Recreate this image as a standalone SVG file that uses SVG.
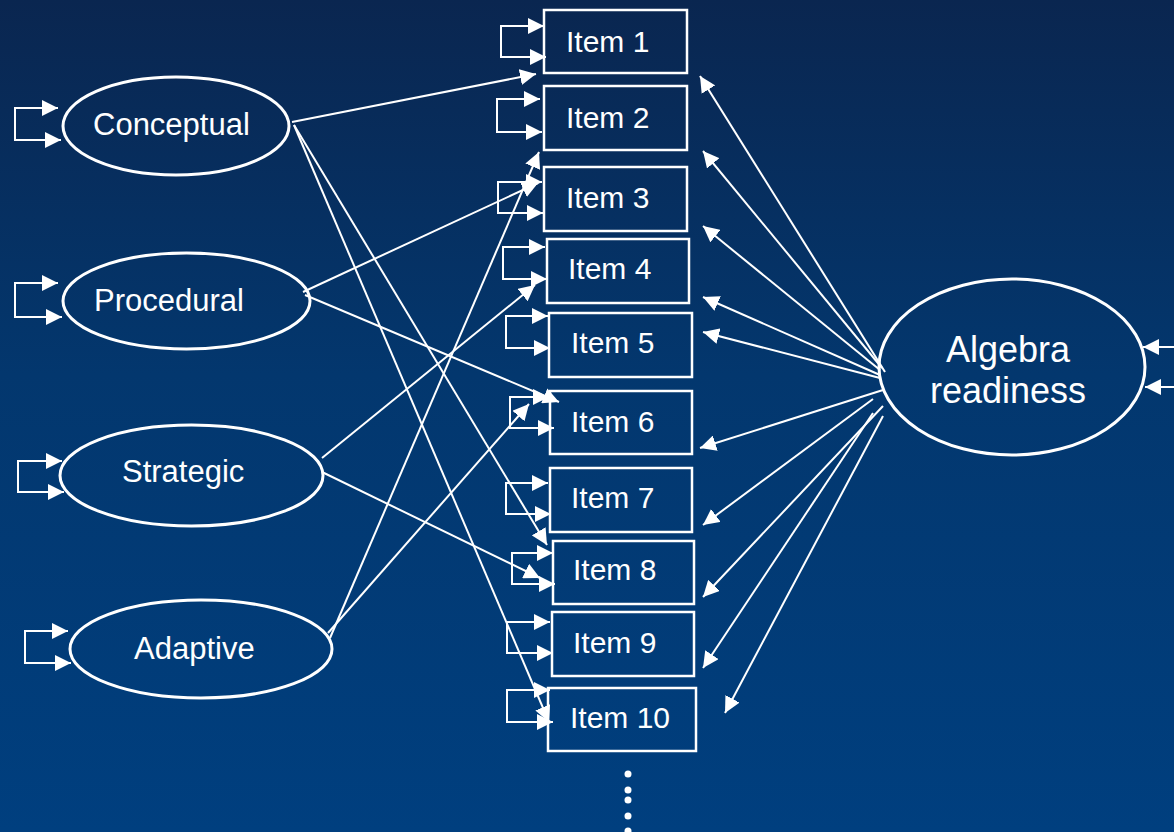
<svg xmlns="http://www.w3.org/2000/svg" width="1174" height="832" viewBox="0 0 1174 832">
<defs>
<linearGradient id="bg" x1="0" y1="0" x2="0" y2="1">
<stop offset="0" stop-color="#0a2650"/>
<stop offset="0.45" stop-color="#03376e"/>
<stop offset="1" stop-color="#003f7f"/>
</linearGradient>
<marker id="ah" markerUnits="userSpaceOnUse" viewBox="0 0 16 16" markerWidth="16" markerHeight="16" refX="16" refY="8" orient="auto-start-reverse">
<path d="M0,0 L16,8 L0,16 z" fill="#ffffff"/>
</marker>
<style>
.ell{fill:none;stroke:#ffffff;stroke-width:3}
.box{fill:none;stroke:#ffffff;stroke-width:2.5}
.lbl{font-family:"Liberation Sans",Arial,sans-serif;fill:#ffffff;font-size:31px}
.itm{font-family:"Liberation Sans",Arial,sans-serif;fill:#ffffff;font-size:30px}
.big{font-family:"Liberation Sans",Arial,sans-serif;fill:#ffffff;font-size:36px;text-anchor:middle}
.c{fill:none;stroke:#ffffff;stroke-width:2;marker-end:url(#ah)}
.loop{fill:none;stroke:#ffffff;stroke-width:2;marker-start:url(#ah);marker-end:url(#ah)}
</style>
</defs>
<rect x="0" y="0" width="1174" height="832" fill="url(#bg)"/>

<g id="conceptual"><ellipse class="ell" cx="176" cy="126" rx="113" ry="49"/><text class="lbl" x="93" y="135">Conceptual</text></g>
<g id="procedural"><ellipse class="ell" cx="186.5" cy="301" rx="123.5" ry="48"/><text class="lbl" x="94" y="311">Procedural</text></g>
<g id="strategic"><ellipse class="ell" cx="191.5" cy="475.5" rx="131.5" ry="50.5"/><text class="lbl" x="122" y="482">Strategic</text></g>
<g id="adaptive"><ellipse class="ell" cx="201" cy="649" rx="131" ry="49"/><text class="lbl" x="134" y="659">Adaptive</text></g>

<g id="item1"><rect class="box" x="544" y="10" width="143" height="63"/><text class="itm" x="566" y="52">Item 1</text></g>
<g id="item2"><rect class="box" x="544" y="86" width="143" height="64"/><text class="itm" x="566" y="128">Item 2</text></g>
<g id="item3"><rect class="box" x="544" y="167" width="143" height="64"/><text class="itm" x="566" y="208">Item 3</text></g>
<g id="item4"><rect class="box" x="547" y="239" width="142" height="64"/><text class="itm" x="568" y="279">Item 4</text></g>
<g id="item5"><rect class="box" x="549" y="313" width="143" height="64"/><text class="itm" x="571" y="353">Item 5</text></g>
<g id="item6"><rect class="box" x="550" y="391" width="142" height="63"/><text class="itm" x="571" y="432">Item 6</text></g>
<g id="item7"><rect class="box" x="550" y="468" width="142" height="64"/><text class="itm" x="571" y="508">Item 7</text></g>
<g id="item8"><rect class="box" x="553" y="541" width="141" height="63"/><text class="itm" x="573" y="580">Item 8</text></g>
<g id="item9"><rect class="box" x="552" y="612" width="142" height="64"/><text class="itm" x="573" y="653">Item 9</text></g>
<g id="item10"><rect class="box" x="548" y="688" width="148" height="63"/><text class="itm" x="570" y="728">Item 10</text></g>

<g id="algebra"><ellipse class="ell" cx="1012" cy="367" rx="133" ry="88"/><text class="big" x="1008" y="362">Algebra</text><text class="big" x="1008" y="403">readiness</text></g>

<g id="dots" fill="#ffffff">
<circle cx="628" cy="774" r="3.5"/><circle cx="628" cy="790" r="3.5"/><circle cx="628" cy="800" r="3.5"/><circle cx="628" cy="816" r="3.5"/><circle cx="628" cy="831" r="3.5"/>
</g>

<g id="connectors">
<path class="loop" d="M58,108 H15 V140 H61"/>
<path class="loop" d="M58,283 H15 V317 H62"/>
<path class="loop" d="M62,461 H18 V492 H64"/>
<path class="loop" d="M68,631 H25 V663 H71"/>
<path class="loop" d="M544,26 H501 V57 H546"/>
<path class="loop" d="M540,99 H497 V132 H542"/>
<path class="loop" d="M542,182 H498 V213 H543"/>
<path class="loop" d="M545,247 H503 V279 H547"/>
<path class="loop" d="M548,316 H506 V348 H550"/>
<path class="loop" d="M549,397 H510 V428 H554"/>
<path class="loop" d="M548,483 H506 V514 H551"/>
<path class="loop" d="M553,553 H512 V584 H555"/>
<path class="loop" d="M550,622 H507 V653 H553"/>
<path class="loop" d="M550,690 H507 V722 H553"/>
<line class="c" x1="1174" y1="347" x2="1143" y2="347"/>
<line class="c" x1="1174" y1="387" x2="1145" y2="387"/>
<line class="c" x1="292" y1="122" x2="536" y2="74"/>
<line class="c" x1="294" y1="125" x2="547" y2="545"/>
<line class="c" x1="294" y1="125" x2="549" y2="722"/>
<line class="c" x1="303" y1="292" x2="538" y2="183"/>
<line class="c" x1="305" y1="295" x2="559" y2="402"/>
<line class="c" x1="322" y1="458" x2="535" y2="285"/>
<line class="c" x1="322" y1="472" x2="540" y2="578"/>
<line class="c" x1="330" y1="638" x2="539" y2="152"/>
<line class="c" x1="328" y1="633" x2="529" y2="404"/>
<line class="c" x1="885" y1="372" x2="700" y2="76"/>
<line class="c" x1="882" y1="368" x2="703" y2="151"/>
<line class="c" x1="880" y1="370" x2="703" y2="226"/>
<line class="c" x1="880" y1="375" x2="703" y2="297"/>
<line class="c" x1="880" y1="378" x2="703" y2="332"/>
<line class="c" x1="883" y1="390" x2="700" y2="448"/>
<line class="c" x1="873" y1="399" x2="703" y2="525"/>
<line class="c" x1="883" y1="406" x2="703" y2="597"/>
<line class="c" x1="873" y1="413" x2="703" y2="668"/>
<line class="c" x1="883" y1="416" x2="725" y2="713"/>
</g>
</svg>
